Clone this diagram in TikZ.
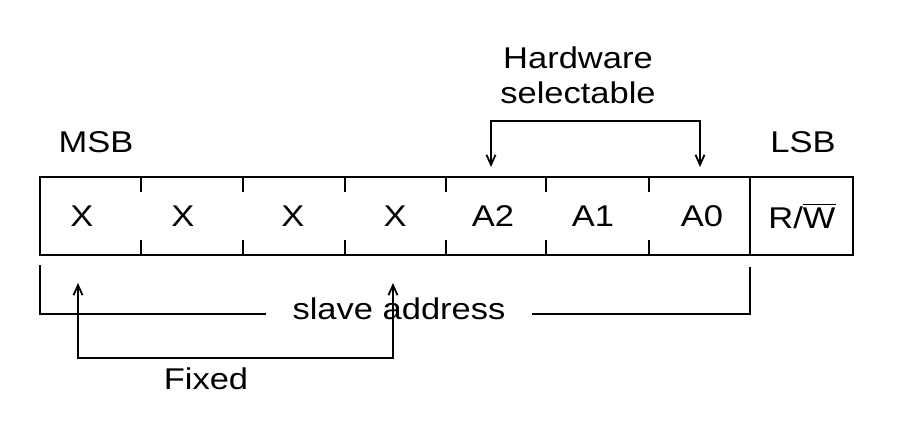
\documentclass[tikz,border=0pt]{standalone}
\usepackage{fontspec}
\setmainfont{Liberation Sans}[FakeStretch=1.15]
\usetikzlibrary{arrows.meta}
\begin{document}
\begin{tikzpicture}[x=0.5pt,y=-0.5pt,line width=0.9pt,
    every node/.style={font=\fontsize{15}{17.5}\selectfont,inner sep=0pt},
    bit/.style={minimum width=50pt,minimum height=39pt},
    tip/.style={{Straight Barb[length=5pt,width=4.5pt]}-{Straight Barb[length=5pt,width=4.5pt]}}]
  \useasboundingbox (0,0) rectangle (909,431);
  % the byte
  \draw (40,177) rectangle (853,255);
  \draw (750,177) -- (750,255);
  \foreach \x in {141,243,345,446,546,649} {
    \draw (\x,177) -- ++(0,15);
    \draw (\x,255) -- ++(0,-15);
  }
  \foreach \x/\t/\n in {82/X/b7,183/X/b6,293/X/b5,395/X/b4,493/A2/b3,593/A1/b2,702/A0/b1}
    \node[bit] (\n) at (\x,216) {\t};
  \node[bit] (b0) at (802,216) {R/$\overline{\mbox{W}}$};
  \node (msb) at (96,142) {MSB};
  \node (lsb) at (803,142) {LSB};
  % hardware selectable
  \node[align=center] (hw) at (578,75) {Hardware\\selectable};
  \coordinate (hwa) at (491,167);
  \coordinate (hwb) at (700,167);
  \draw[tip] (hwa) |- (700,121) -- (hwb);
  % slave address
  \node[anchor=mid,inner xsep=13pt] (sa) at (399,314) {slave address};
  \coordinate (sal) at (40,265);
  \coordinate (sar) at (750,267);
  \draw (sal) |- (sa.mid west);
  \draw (sar) |- (sa.mid east);
  % fixed
  \node[anchor=base] (fx) at (206,390) {Fixed};
  \coordinate (fxa) at (78,283);
  \coordinate (fxb) at (393,283);
  \draw[tip] (fxa) |- (393,358) -- (fxb);
\end{tikzpicture}
\end{document}
